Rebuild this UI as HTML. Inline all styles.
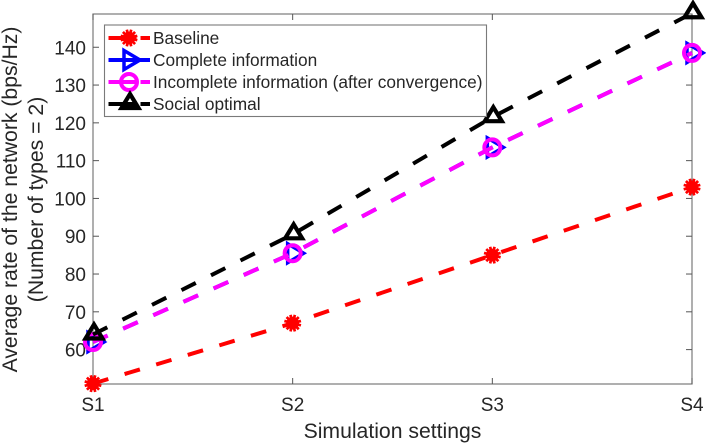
<!DOCTYPE html>
<html>
<head>
<meta charset="utf-8">
<style>
html,body{margin:0;padding:0;background:#fff;width:706px;height:443px;overflow:hidden}
svg{display:block;font-family:"Liberation Sans",sans-serif}
text{fill:#262626}
</style>
</head>
<body>
<svg id="chart" width="706" height="443" viewBox="0 0 706 443" xmlns="http://www.w3.org/2000/svg"></svg>
<script>
const categories = ['S1', 'S2', 'S3', 'S4'];
const yTickValues = [60, 70, 80, 90, 100, 110, 120, 130, 140];
const yDomain = [50.9, 148.8];
const baselineValues = [51, 67, 85, 103];
const completeValues = [62, 85.5, 113.5, 138.5];
const incompleteValues = [62, 85.5, 113.5, 138.5];
const socialValues = [64, 90.5, 121.5, 149];

const NS = 'http://www.w3.org/2000/svg';
const svg = document.getElementById('chart');
const plot = {left: 93, right: 692, top: 14, bottom: 384};

function xScale(i) {
  return plot.left + (plot.right - plot.left) * i / (categories.length - 1);
}
function yScale(v) {
  return plot.bottom - (v - yDomain[0]) * (plot.bottom - plot.top) / (yDomain[1] - yDomain[0]);
}
function make(tag, attrs, parent) {
  const el = document.createElementNS(NS, tag);
  for (const k in attrs) el.setAttribute(k, attrs[k]);
  (parent || svg).appendChild(el);
  return el;
}
function label(str, x, y, size, anchor, parent) {
  const t = make('text', {x: x, y: y, 'font-size': size, 'text-anchor': anchor}, parent);
  t.textContent = str;
  return t;
}

const axisColor = '#7a7a7a';
const tickColor = '#555';

/* axes box */
const box = make('rect', {x: plot.left, y: plot.top, width: plot.right - plot.left, height: plot.bottom - plot.top, fill: 'none', stroke: axisColor, 'stroke-width': 1.2});



/* x ticks */
categories.forEach(function (c, i) {
  const x = xScale(i);
  const t1 = make('line', {x1: x, x2: x, y1: plot.bottom, y2: plot.bottom - 6, stroke: tickColor, 'stroke-width': 1});
  
  
  const t2 = make('line', {x1: x, x2: x, y1: plot.top, y2: plot.top + 6, stroke: tickColor, 'stroke-width': 1});
  
  
  const l = label(c, x, 411, 19, 'middle');
  
  
});

/* y ticks */
yTickValues.forEach(function (v) {
  const y = yScale(v);
  const t1 = make('line', {x1: plot.left, x2: plot.left + 6, y1: y, y2: y, stroke: tickColor, 'stroke-width': 1});
  
  
  const t2 = make('line', {x1: plot.right, x2: plot.right - 6, y1: y, y2: y, stroke: tickColor, 'stroke-width': 1});
  
  
  const l = label(String(v), 86, y + 7, 19, 'end');
  
  
});

/* marker drawers */
function drawStar(g, x, y, color) {
  const spokes = 6;
  for (let k = 0; k < spokes; k++) {
    const a = Math.PI * (k + 0.5) / spokes;
    const dx = Math.cos(a) * 8.6, dy = Math.sin(a) * 8.6;
    make('line', {x1: x - dx, y1: y - dy, x2: x + dx, y2: y + dy, stroke: color, 'stroke-width': 2.7}, g);
  }
  make('circle', {cx: x, cy: y, r: 6.4, fill: color}, g);
}
function drawRight(g, x, y, color) {
  make('path', {d: 'M' + (x - 5) + ' ' + (y - 9.5) + 'L' + (x + 11) + ' ' + y + 'L' + (x - 5) + ' ' + (y + 9.5) + 'Z', fill: 'none', stroke: color, 'stroke-width': 3.5, 'stroke-miterlimit': 10}, g);
}
function drawCircle(g, x, y, color) {
  make('circle', {cx: x, cy: y, r: 8, fill: 'none', stroke: color, 'stroke-width': 4}, g);
}
function drawUp(g, x, y, color) {
  make('path', {d: 'M' + (x + 1) + ' ' + (y - 10) + 'L' + (x + 9.5) + ' ' + (y + 4) + 'L' + (x - 7.5) + ' ' + (y + 4) + 'Z', fill: 'none', stroke: color, 'stroke-width': 4.2, 'stroke-miterlimit': 10}, g);
}

function drawSeries(values, color, marker, name) {
  const g = make('g', {});
  
  
  const pts = values.map(function (v, i) { return xScale(i) + ',' + yScale(v); }).join(' ');
  const line = make('polyline', {points: pts, fill: 'none', stroke: color, 'stroke-width': 4, 'stroke-dasharray': '16 17'}, g);
  
  
  values.forEach(function (v, i) {
    const m = make('g', {}, g);
    
    
    marker(m, xScale(i), yScale(v), color);
  });
}

drawSeries(baselineValues, '#ff0000', drawStar, 'baseline');
drawSeries(completeValues, '#0000ff', drawRight, 'complete-information');
drawSeries(incompleteValues, '#ff00ff', drawCircle, 'incomplete-information');
drawSeries(socialValues, '#000000', drawUp, 'social-optimal');

/* legend */
const legend = make('g', {});


make('rect', {x: 104.5, y: 25, width: 382, height: 91.5, fill: '#fff', stroke: axisColor, 'stroke-width': 1.1}, legend);

const legendNames = ['Baseline', 'Complete information', 'Incomplete information (after convergence)', 'Social optimal'];
const legendColors = ['#ff0000', '#0000ff', '#ff00ff', '#000000'];
const legendMarkers = [drawStar, drawRight, drawCircle, drawUp];
legendNames.forEach(function (n, i) {
  const y = 38 + i * 22;
  const e = make('g', {}, legend);
  
  
  make('line', {x1: 108.5, x2: 150, y1: y, y2: y, stroke: legendColors[i], 'stroke-width': 4, 'stroke-dasharray': i === 1 ? 'none' : '28 4 10'}, e);
  legendMarkers[i](e, 129, y, legendColors[i]);
  label(n, 153, y + 6, 17.3, 'start', e);
});

/* axis titles */
const xt = label('Simulation settings', 392.5, 438, 21.2, 'middle');



const yt1 = label('Average rate of the network (bps/Hz)', 0, 0, 21.2, 'middle');
yt1.setAttribute('transform', 'translate(17,199.5) rotate(-90)');



const yt2 = label('(Number of types = 2)', 0, 0, 21.2, 'middle');
yt2.setAttribute('transform', 'translate(43,199.5) rotate(-90)');


</script>
</body>
</html>
